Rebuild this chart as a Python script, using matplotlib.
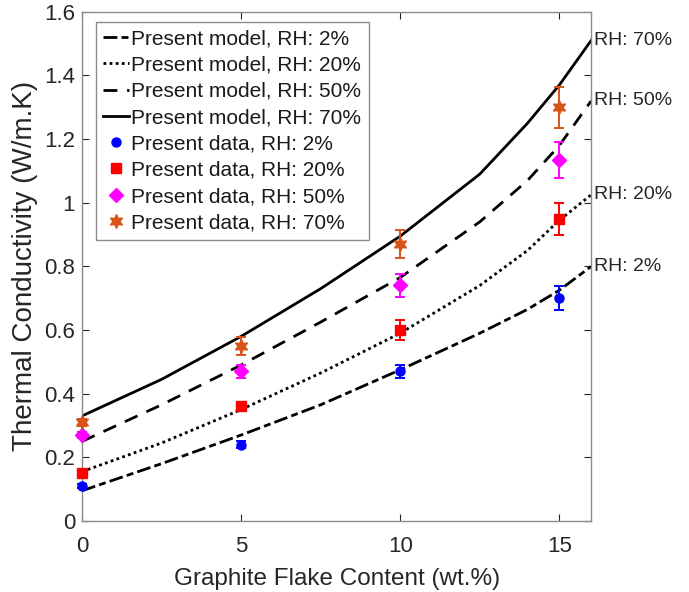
import numpy as np
import matplotlib.pyplot as plt
from matplotlib.ticker import FuncFormatter

plt.rcParams['font.family'] = ['Liberation Sans', 'DejaVu Sans']

# model curves
x_model = [0, 2.5, 5, 7.5, 10, 12.5, 14, 15, 16]
model_rh2 = [0.095, 0.18, 0.27, 0.365, 0.475, 0.59, 0.665, 0.725, 0.80]
model_rh20 = [0.155, 0.245, 0.35, 0.465, 0.59, 0.74, 0.85, 0.945, 1.025]
model_rh50 = [0.25, 0.365, 0.49, 0.625, 0.765, 0.94, 1.07, 1.18, 1.32]
model_rh70 = [0.33, 0.445, 0.58, 0.73, 0.895, 1.09, 1.25, 1.37, 1.51]

# measured data
x_data = [0, 5, 10, 15]
data_rh2 = [0.11, 0.24, 0.47, 0.70]
err_rh2 = [0.005, 0.01, 0.02, 0.037]
data_rh20 = [0.15, 0.36, 0.60, 0.95]
err_rh20 = [0.005, 0.015, 0.03, 0.05]
data_rh50 = [0.27, 0.47, 0.74, 1.135]
err_rh50 = [0.01, 0.02, 0.035, 0.056]
data_rh70 = [0.31, 0.55, 0.87, 1.30]
err_rh70 = [0.01, 0.027, 0.043, 0.065]

fig = plt.figure(figsize=(6.89, 5.92), dpi=100)
ax = fig.add_axes([0.119, 0.120, 0.739, 0.860])

lw = 2.0
ax.plot(x_model, model_rh2, color='black', lw=lw, dashes=(5, 1.5, 2.5, 1.5), label='Present model, RH: 2%')
ax.plot(x_model, model_rh20, color='black', lw=lw, dashes=(1, 1.2), label='Present model, RH: 20%')
ax.plot(x_model, model_rh50, color='black', lw=lw, dashes=(5, 3.5), label='Present model, RH: 50%')
ax.plot(x_model, model_rh70, color='black', lw=lw, label='Present model, RH: 70%')

series = [
    (data_rh2, err_rh2, 'o', '#0000FF', 6.5, 'Present data, RH: 2%'),
    (data_rh20, err_rh20, 's', '#FF0000', 6.5, 'Present data, RH: 20%'),
    (data_rh50, err_rh50, 'D', '#FF00FF', 7, 'Present data, RH: 50%'),
    (data_rh70, err_rh70, (6, 1, 0), '#D95319', 10, 'Present data, RH: 70%'),
]
for yv, ev, mk, col, ms, lab in series:
    cont = ax.errorbar(x_data, yv, yerr=ev, linestyle='none', color=col, capsize=3.5,
                       elinewidth=1.4, capthick=1.4)
    for art in cont.get_children():
        art.set_clip_on(False)
    ax.plot(x_data, yv, linestyle='none', marker=mk, color=col, ms=ms, clip_on=False, label=lab, zorder=3)

for yv, txt in zip([model_rh70[-1], model_rh50[-1], model_rh20[-1], model_rh2[-1]],
                   ['RH: 70%', 'RH: 50%', 'RH: 20%', 'RH: 2%']):
    ax.text(16.1, yv, txt, fontsize=14, va='center', ha='left', color='#262626', clip_on=False)

ax.set_xlim(0, 16)
ax.set_ylim(0, 1.6)
ax.set_xticks([0, 5, 10, 15])
ax.set_yticks(np.arange(0, 1.61, 0.2))
ax.yaxis.set_major_formatter(FuncFormatter(lambda v, p: '%g' % round(v, 1)))
ax.tick_params(direction='in', top=True, right=True, labelsize=16, colors='#262626', length=5, width=0.8)
ax.tick_params(axis='x', pad=11)
ax.tick_params(axis='y', pad=5)
for s in ax.spines.values():
    s.set_color('#8c8c8c')
    s.set_linewidth(1.0)

ax.set_xlabel('Graphite Flake Content (wt.%)', fontsize=17.5, color='#262626', labelpad=8)
ax.set_ylabel('Thermal Conductivity (W/m.K)', fontsize=20, color='#262626', labelpad=4)

leg = ax.legend(loc='upper left', bbox_to_anchor=(0.0275, 0.98), borderaxespad=0, fontsize=15,
                fancybox=False, edgecolor='#8c8c8c', framealpha=1, handlelength=1.25,
                handletextpad=0.1, labelspacing=0.35, borderpad=0.35, numpoints=1)
leg.get_frame().set_linewidth(1.0)
for t in leg.get_texts():
    t.set_color('#1a1a1a')

fig.savefig('out.png', dpi=100)
